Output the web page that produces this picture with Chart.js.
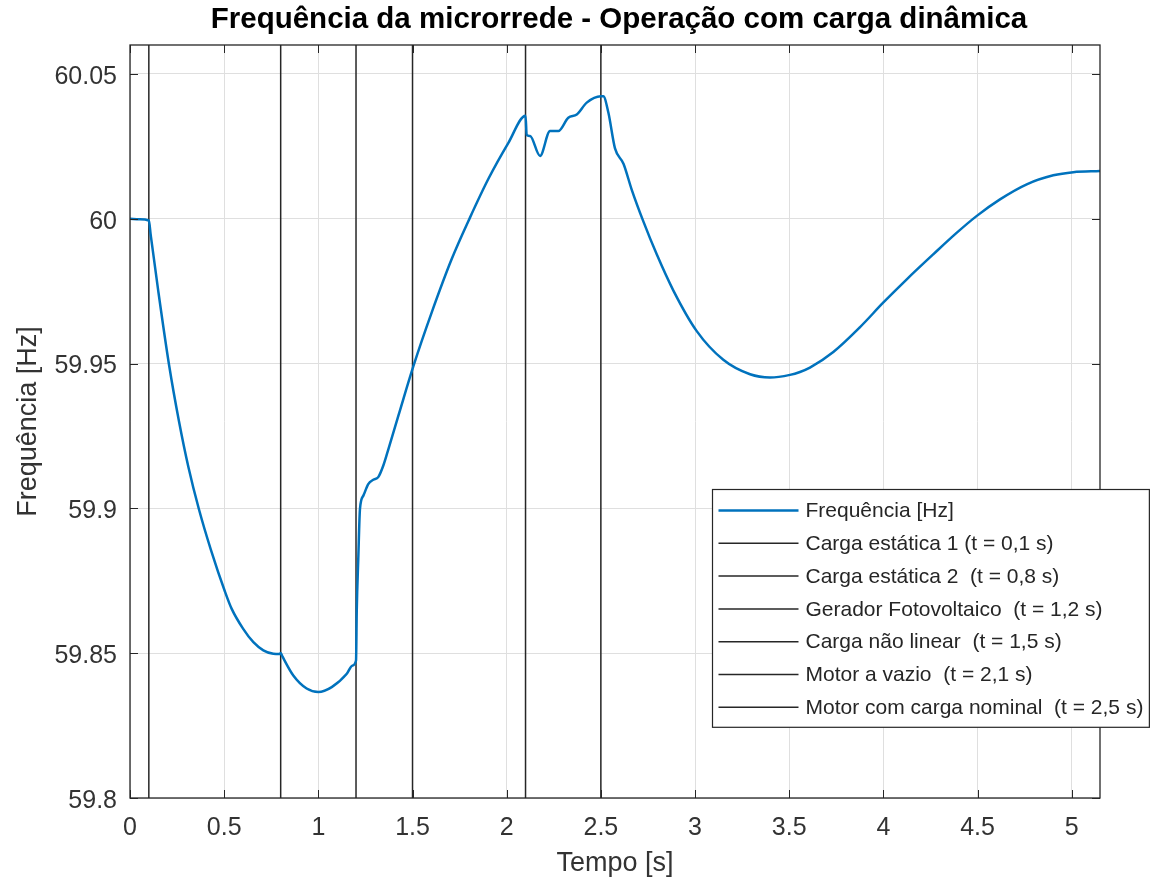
<!DOCTYPE html>
<html lang="pt">
<head>
<meta charset="utf-8">
<title>Frequência da microrrede</title>
<script src="https://cdn.jsdelivr.net/npm/chart.js@4.4.1/dist/chart.umd.min.js"></script>
<style>
  html, body { margin: 0; padding: 0; background: #ffffff; }
  #grafico { display: block; }
</style>
</head>
<body>
<canvas id="grafico" width="1155" height="883"></canvas>
<script>
// Tempo de simulação [s] e frequência medida na microrrede [Hz]
const tempo = [
  0, 0.05, 0.1, 0.11, 0.15, 0.207, 0.26, 0.31, 0.366, 0.43, 0.504, 0.54, 0.601, 0.655, 0.708,
  0.761, 0.795, 0.8, 0.81, 0.867, 0.938, 1.0, 1.071, 1.151, 1.18, 1.2, 1.204, 1.212, 1.221,
  1.239, 1.265, 1.292, 1.318, 1.345, 1.372, 1.425, 1.505, 1.602, 1.708, 1.805, 1.903, 2.009,
  2.1, 2.106, 2.124, 2.177, 2.23, 2.274, 2.327, 2.372, 2.425, 2.5, 2.513, 2.54, 2.575, 2.62,
  2.664, 2.726, 2.796, 2.885, 3.009, 3.15, 3.292, 3.398, 3.504, 3.557, 3.61, 3.734, 3.876, 4.0,
  4.124, 4.266, 4.39, 4.496, 4.619, 4.761, 4.902, 5.008, 5.15
];
const frequencia = [
  60.0, 59.9998, 59.9994, 59.9944, 59.9751, 59.9497, 59.9301, 59.9143, 59.8997, 59.8856, 59.8713,
  59.8653, 59.8584, 59.8538, 59.8510, 59.8498, 59.8497, 59.8501, 59.8488, 59.8423, 59.8378,
  59.8366, 59.8383, 59.8429, 59.8457, 59.8475, 59.8650, 59.8826, 59.8998, 59.9044, 59.9084,
  59.9099, 59.9108, 59.9148, 59.9205, 59.932, 59.9492, 59.9677, 59.9861, 60.0004, 60.0138,
  60.0262, 60.0356, 60.0289, 60.0286, 60.0217, 60.0303, 60.0303, 60.0349, 60.036, 60.0401,
  60.0423, 60.0423, 60.0366, 60.0243, 60.0190, 60.0100, 59.9990, 59.9878, 59.9752, 59.9612,
  59.9513, 59.9463, 59.9452, 59.9461, 59.9471, 59.9486, 59.9540, 59.9626, 59.9711, 59.9791,
  59.9878, 59.9952, 60.001, 60.0067, 60.0119, 60.015, 60.0161, 60.0165
];

// Instantes dos eventos de chaveamento [s] e suas descrições
const eventos = [0.1, 0.8, 1.2, 1.5, 2.1, 2.5];
const nomesEventos = [
  'Carga estática 1 (t = 0,1 s)',
  'Carga estática 2  (t = 0,8 s)',
  'Gerador Fotovoltaico  (t = 1,2 s)',
  'Carga não linear  (t = 1,5 s)',
  'Motor a vazio  (t = 2,1 s)',
  'Motor com carga nominal  (t = 2,5 s)'
];
const nomeFrequencia = 'Frequência [Hz]';

// Marcas dos eixos
const xTicks = [0, 0.5, 1, 1.5, 2, 2.5, 3, 3.5, 4, 4.5, 5];
const xTickLabels = ['0', '0.5', '1', '1.5', '2', '2.5', '3', '3.5', '4', '4.5', '5'];
const yTicks = [59.8, 59.85, 59.9, 59.95, 60, 60.05];
const yTickLabels = ['59.8', '59.85', '59.9', '59.95', '60', '60.05'];

const titulo = 'Frequência da microrrede - Operação com carga dinâmica';
const rotuloX = 'Tempo [s]';
const rotuloY = 'Frequência [Hz]';

const X_MIN = 0, X_MAX = 5.15, Y_MIN = 59.8, Y_MAX = 60.06;

const FONTE = '"Liberation Sans", Arial, Helvetica, sans-serif';
const AZUL = '#0072BD';
const ESCURO = '#262626';

const datasets = [{
  label: nomeFrequencia,
  data: tempo.map((t, i) => ({ x: t, y: frequencia[i] })),
  borderColor: AZUL,
  borderWidth: 2.5,
  pointRadius: 0,
  cubicInterpolationMode: 'monotone',
  fill: false
}];
eventos.forEach((t, i) => {
  datasets.push({
    label: nomesEventos[i],
    data: [{ x: t, y: Y_MIN }, { x: t, y: Y_MAX }],
    borderColor: ESCURO,
    borderWidth: 1.5,
    pointRadius: 0,
    fill: false
  });
});

// Moldura, marcas internas, título e legenda no estilo de eixos fechados
const moldura = {
  id: 'moldura',
  afterDatasetsDraw(chart) {
    const { ctx, chartArea: a, scales } = chart;
    ctx.save();
    ctx.strokeStyle = ESCURO;
    ctx.lineWidth = 1;
    const L = 8;
    ctx.beginPath();
    xTicks.forEach(v => {
      const px = Math.round(scales.x.getPixelForValue(v)) + 0.5;
      ctx.moveTo(px, a.bottom); ctx.lineTo(px, a.bottom - L);
      ctx.moveTo(px, a.top); ctx.lineTo(px, a.top + L);
    });
    yTicks.forEach(v => {
      const py = Math.round(scales.y.getPixelForValue(v)) + 0.5;
      ctx.moveTo(a.left, py); ctx.lineTo(a.left + L, py);
      ctx.moveTo(a.right, py); ctx.lineTo(a.right - L, py);
    });
    ctx.stroke();
    ctx.lineWidth = 1.3;
    ctx.strokeRect(a.left, a.top, a.right - a.left, a.bottom - a.top);
    ctx.restore();
  },
  afterDraw(chart) {
    const { ctx, chartArea: a } = chart;
    ctx.save();
    // título
    ctx.fillStyle = '#000000';
    ctx.font = 'bold 29.5px ' + FONTE;
    ctx.textAlign = 'center';
    ctx.textBaseline = 'middle';
    ctx.fillText(titulo, (a.left + a.right) / 2 + 4, 20);

    // legenda
    const ds = chart.data.datasets;
    ctx.font = '21px ' + FONTE;
    const maxW = Math.max(...ds.map(d => ctx.measureText(d.label).width));
    const rowH = 32.8;
    const boxW = 6 + 80 + 7 + maxW + 6;
    const boxH = rowH * (ds.length - 1) + 41;
    const bx = Math.round(a.left + 582) + 0.5;
    const by = Math.round(a.bottom - 71 - boxH) + 0.5;
    ctx.fillStyle = '#ffffff';
    ctx.fillRect(bx, by, boxW, boxH);
    ctx.strokeStyle = ESCURO;
    ctx.lineWidth = 1.2;
    ctx.strokeRect(bx, by, boxW, boxH);
    ctx.textAlign = 'left';
    ds.forEach((d, i) => {
      const cy = by + 21 + i * rowH;
      ctx.strokeStyle = d.borderColor;
      ctx.lineWidth = d.borderWidth;
      ctx.beginPath();
      ctx.moveTo(bx + 6, cy);
      ctx.lineTo(bx + 86, cy);
      ctx.stroke();
      ctx.fillStyle = ESCURO;
      ctx.fillText(d.label, bx + 93, cy + 1);
    });
    ctx.restore();
  }
};

new Chart(document.getElementById('grafico'), {
  type: 'line',
  data: { datasets },
  plugins: [moldura],
  options: {
    responsive: false,
    animation: false,
    events: [],
    layout: { padding: { left: 0, right: 55, top: 45, bottom: 0 } },
    plugins: {
      legend: { display: false },
      title: { display: false },
      tooltip: { enabled: false }
    },
    scales: {
      x: {
        type: 'linear',
        min: X_MIN,
        max: X_MAX,
        afterBuildTicks: s => { s.ticks = xTicks.map(v => ({ value: v })); },
        afterFit: s => { s.height = 85; },
        grid: { color: '#dfdfdf', lineWidth: 1, drawTicks: false },
        border: { display: false },
        ticks: {
          callback: (v, i) => xTickLabels[i],
          padding: 15,
          maxRotation: 0,
          autoSkip: false,
          color: '#333333',
          font: { family: FONTE, size: 25 }
        },
        title: {
          display: true,
          text: rotuloX,
          color: '#333333',
          font: { family: FONTE, size: 27 },
          padding: { top: 0, bottom: 3 }
        }
      },
      y: {
        type: 'linear',
        min: Y_MIN,
        max: Y_MAX,
        afterBuildTicks: s => { s.ticks = yTicks.map(v => ({ value: v })); },
        afterFit: s => { s.width = 130; },
        grid: { color: '#dfdfdf', lineWidth: 1, drawTicks: false },
        border: { display: false },
        ticks: {
          callback: (v, i) => yTickLabels[i],
          padding: 13,
          labelOffset: 3,
          autoSkip: false,
          color: '#333333',
          font: { family: FONTE, size: 25 }
        },
        title: {
          display: true,
          text: rotuloY,
          color: '#333333',
          font: { family: FONTE, size: 27 },
          padding: { top: 12, bottom: 0 }
        }
      }
    }
  }
});
</script>
</body>
</html>
